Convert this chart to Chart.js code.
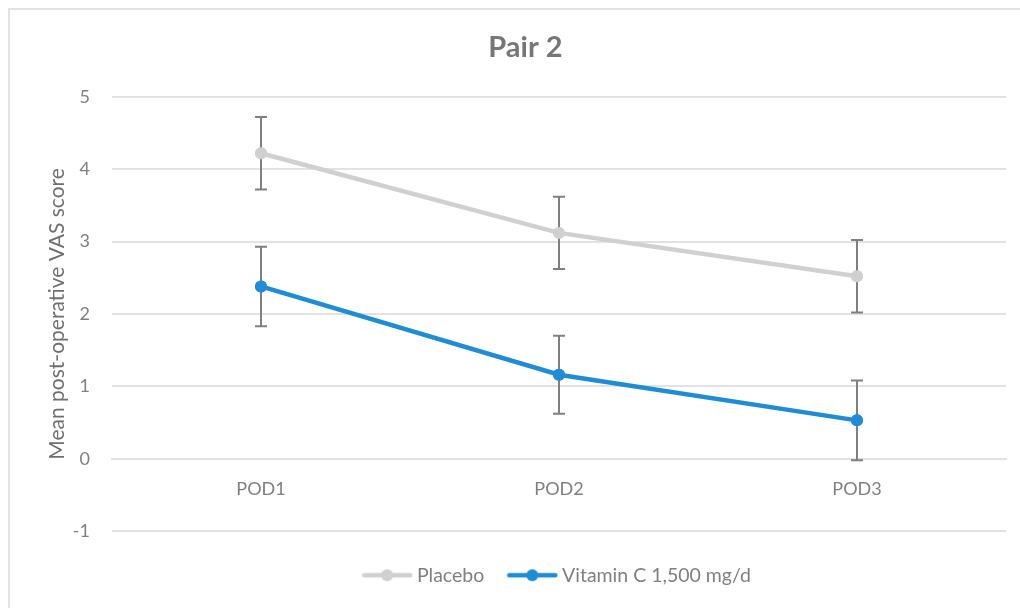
<!DOCTYPE html>
<html>
<head>
<meta charset="utf-8">
<title>Pair 2</title>
<script src="https://cdn.jsdelivr.net/npm/chart.js@4.4.1/dist/chart.umd.min.js"></script>
<style>
  html, body { margin: 0; padding: 0; background: #ffffff; overflow: hidden; }
  #wrap { position: relative; width: 1020px; height: 608px; }
  #frame { position: absolute; left: 8px; top: 8px; width: 1100px; height: 700px;
           border-left: 2px solid #e3e3e3; border-top: 2px solid #e3e3e3; box-sizing: border-box; }
  #chart { position: absolute; left: 0; top: 0; }
</style>
</head>
<body>
<div id="wrap">
  <div id="frame"></div>
  <canvas id="chart" width="1020" height="608"></canvas>
</div>
<script>
// Post-operative days
const categories = ['POD1', 'POD2', 'POD3'];

// Mean VAS score and error half-widths per group
const placeboMeans = [4.22, 3.12, 2.52];
const placeboErr = [0.50, 0.50, 0.50];
const vitaminMeans = [2.38, 1.16, 0.53];
const vitaminErr = [0.55, 0.54, 0.55];

const seriesNames = ['Placebo', 'Vitamin C 1,500 mg/d'];
const yTicks = [-1, 0, 1, 2, 3, 4, 5];

const FONT = 'Lato, "Open Sans", sans-serif';
const TEXT = '#7f7f7f';
const GRID = '#e2e2e2';
const COLORS = ['#d0d0d0', '#1f8dd6'];

// Legend swatch: a short line with a dot in the middle
function swatch(color) {
  const c = document.createElement('canvas');
  c.width = 52; c.height = 14;
  const g = c.getContext('2d');
  g.strokeStyle = color; g.lineWidth = 4.5; g.lineCap = 'round';
  g.beginPath(); g.moveTo(3, 7); g.lineTo(49, 7); g.stroke();
  g.fillStyle = color;
  g.beginPath(); g.arc(26, 7, 6, 0, Math.PI * 2); g.fill();
  return c;
}

// Vertical error bars with caps; points are redrawn on top
const errorBars = {
  id: 'errorBars',
  afterDatasetsDraw(chart) {
    const { ctx, scales: { x, y } } = chart;
    ctx.save();
    ctx.strokeStyle = '#7f7f7f';
    ctx.lineWidth = 2;
    chart.data.datasets.forEach((ds) => {
      ds.data.forEach((v, i) => {
        const px = x.getPixelForValue(i);
        const top = y.getPixelForValue(v + ds.err[i]);
        const bot = y.getPixelForValue(v - ds.err[i]);
        const cap = 6;
        ctx.beginPath();
        ctx.moveTo(px, top); ctx.lineTo(px, bot);
        ctx.moveTo(px - cap, top); ctx.lineTo(px + cap, top);
        ctx.moveTo(px - cap, bot); ctx.lineTo(px + cap, bot);
        ctx.stroke();
      });
    });
    ctx.restore();
    chart.data.datasets.forEach((ds, di) => {
      const meta = chart.getDatasetMeta(di);
      meta.data.forEach((pt) => pt.draw(ctx, chart.chartArea));
    });
  }
};

new Chart(document.getElementById('chart'), {
  type: 'line',
  data: {
    labels: categories,
    datasets: [
      { label: seriesNames[0], data: placeboMeans, err: placeboErr },
      { label: seriesNames[1], data: vitaminMeans, err: vitaminErr }
    ].map((d, i) => Object.assign(d, {
      borderColor: COLORS[i],
      backgroundColor: COLORS[i],
      borderWidth: 4.5,
      pointRadius: 6,
      pointHoverRadius: 6,
      pointBorderWidth: 0,
      tension: 0
    }))
  },
  options: {
    responsive: false,
    animation: false,
    events: [],
    layout: { padding: { left: 45, right: 14, top: 20, bottom: 13 } },
    plugins: {
      title: {
        display: true,
        text: 'Pair 2',
        color: '#767676',
        font: { family: FONT, size: 29, weight: 'bold' },
        padding: { top: 10, bottom: 32 }
      },
      legend: {
        position: 'bottom',
        fullSize: false,
        title: {
          display: true,
          text: ' ',
          font: { family: FONT, size: 2 },
          padding: { top: 0, bottom: 4 }
        },
        labels: {
          usePointStyle: true,
          pointStyleWidth: 40,
          color: TEXT,
          font: { family: FONT, size: 19.5 },
          padding: 28,
          generateLabels(chart) {
            return chart.data.datasets.map((ds, i) => ({
              text: ds.label,
              pointStyle: swatch(COLORS[i]),
              fontColor: TEXT,
              datasetIndex: i,
              lineWidth: 0,
              strokeStyle: 'transparent',
              fillStyle: 'transparent'
            }));
          }
        }
      },
      tooltip: { enabled: false }
    },
    scales: {
      x: {
        type: 'category',
        offset: true,
        position: { y: 0 },
        grid: { display: false, drawTicks: false, offset: true },
        border: { display: true, color: GRID, width: 2 },
        ticks: { color: TEXT, font: { family: FONT, size: 18 }, padding: 20 }
      },
      y: {
        min: -1,
        max: 5,
        afterBuildTicks(scale) { scale.ticks = yTicks.map((v) => ({ value: v })); },
        afterFit(scale) { scale.width = 67; },
        grid: { color: GRID, lineWidth: 2, drawTicks: false },
        border: { display: false },
        ticks: { color: TEXT, font: { family: FONT, size: 18 }, padding: 22 },
        title: {
          display: true,
          text: 'Mean post-operative VAS score',
          color: '#6f6f6f',
          font: { family: FONT, size: 21 },
          padding: { top: 0, bottom: 0 }
        }
      }
    }
  },
  plugins: [errorBars]
});
</script>
</body>
</html>
